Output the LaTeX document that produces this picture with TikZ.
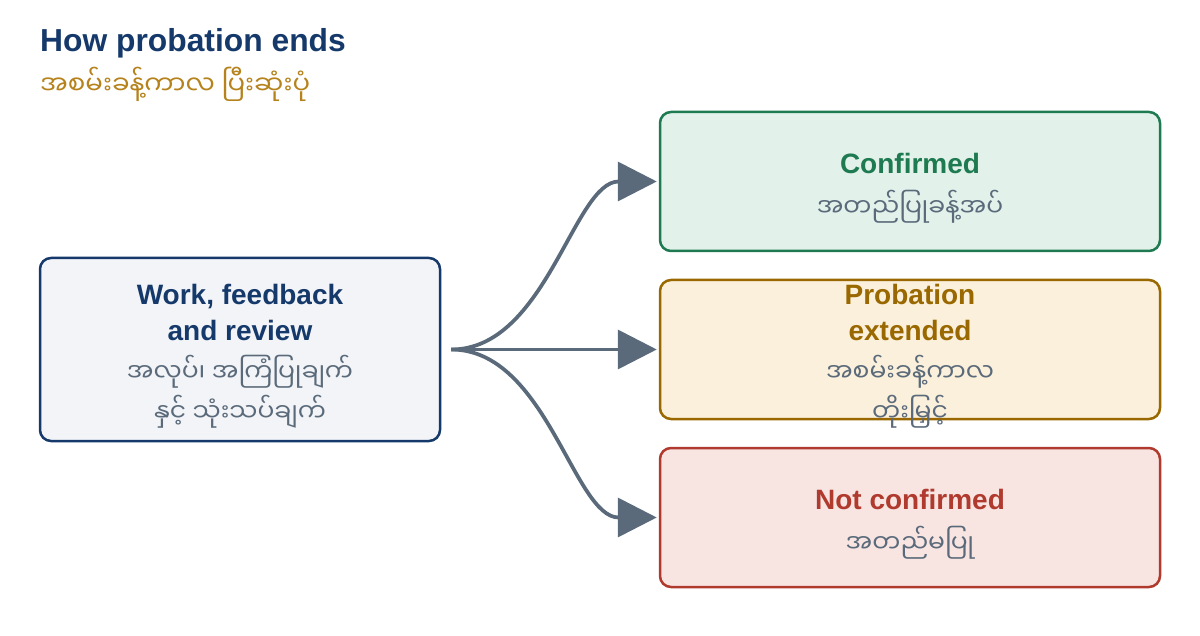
\documentclass[tikz,border=0pt]{standalone}
\usepackage{fontspec}
\setmainfont{Liberation Sans}
\newfontfamily\mmfont[Script=Myanmar]{Noto Sans Myanmar UI}
\usetikzlibrary{arrows.meta}
\definecolor{navy}{RGB}{21, 57, 106}
\definecolor{gold}{RGB}{181, 130, 28}
\definecolor{slate}{RGB}{90, 106, 122}
\definecolor{workfill}{RGB}{242, 244, 247}
\definecolor{green}{RGB}{30, 122, 80}
\definecolor{greenfill}{RGB}{226, 241, 234}
\definecolor{amber}{RGB}{154, 104, 0}
\definecolor{amberfill}{RGB}{251, 240, 219}
\definecolor{red}{RGB}{176, 58, 46}
\definecolor{redfill}{RGB}{248, 229, 226}
\newcommand{\entext}[1]{{\bfseries\rule{0pt}{33pt}#1}}
\newcommand{\mmtext}[1]{{\mmfont\fontsize{25}{36}\selectfont\color{slate}#1}}

\begin{document}
\begin{tikzpicture}[x=1pt, y=-1pt, 
  box/.style={draw, rounded corners=11pt, line width=2.5pt, align=center, 
              inner sep=0pt, minimum width=500pt, minimum height=139pt,
              font=\fontsize{28}{36}\selectfont},
  flow/.style={draw=slate, line width=3.75pt, 
               -{Triangle[length=39pt, width=39pt]}, shorten >=2pt},
]
  \useasboundingbox (0, 0) rectangle (1200, 636);

  \node[anchor=base west, inner sep=0pt, text=navy] (title) at (40, 52)
    {\fontsize{31.8}{36}\selectfont\bfseries How probation ends};
  \node[anchor=west, inner sep=0pt, text=gold] (subtitle) at (40, 84)
    {\mmfont\fontsize{26}{30}\selectfont အစမ်းခန့်ကာလ ပြီးဆုံးပုံ};

  \node[box, draw=navy, fill=workfill, minimum width=400pt, minimum height=183pt] 
    (work) at (240, 349.5)
    {\color{navy}\entext{Work, feedback}\\\color{navy}{\bfseries and review}\\[5pt]
     \mmtext{အလုပ်၊ အကြံပြုချက်}\\[4pt]\mmtext{နှင့် သုံးသပ်ချက်}};

  \node[box, draw=green, fill=greenfill] (conf) at (910, 181.5)
    {\color{green}\entext{Confirmed}\\[7pt]\mmtext{အတည်ပြုခန့်အပ်}};

  % text runs past the frame here, so it sits in its own node
  \node[box, draw=amber, fill=amberfill] (ext) at (910, 349.5) {};
  \node[align=center, inner sep=0pt, font=\fontsize{28}{36}\selectfont] 
    (exttext) at (ext.center)
    {\color{amber}\entext{Probation}\\\color{amber}{\bfseries extended}\\[5pt]
     \mmtext{အစမ်းခန့်ကာလ}\\[4pt]\mmtext{တိုးမြှင့်}};

  \node[box, draw=red, fill=redfill] (notc) at (910, 517.5)
    {\color{red}\entext{Not confirmed}\\[7pt]\mmtext{အတည်မပြု}};

  \coordinate (fork) at ([xshift=10pt]work.east);
  \draw[flow] (fork) .. controls +(95, 0) and +(-85, 0) .. (conf.west);
  \draw[flow] (fork) -- (ext.west);
  \draw[flow] (fork) .. controls +(95, 0) and +(-85, 0) .. (notc.west);

\end{tikzpicture}
\end{document}
